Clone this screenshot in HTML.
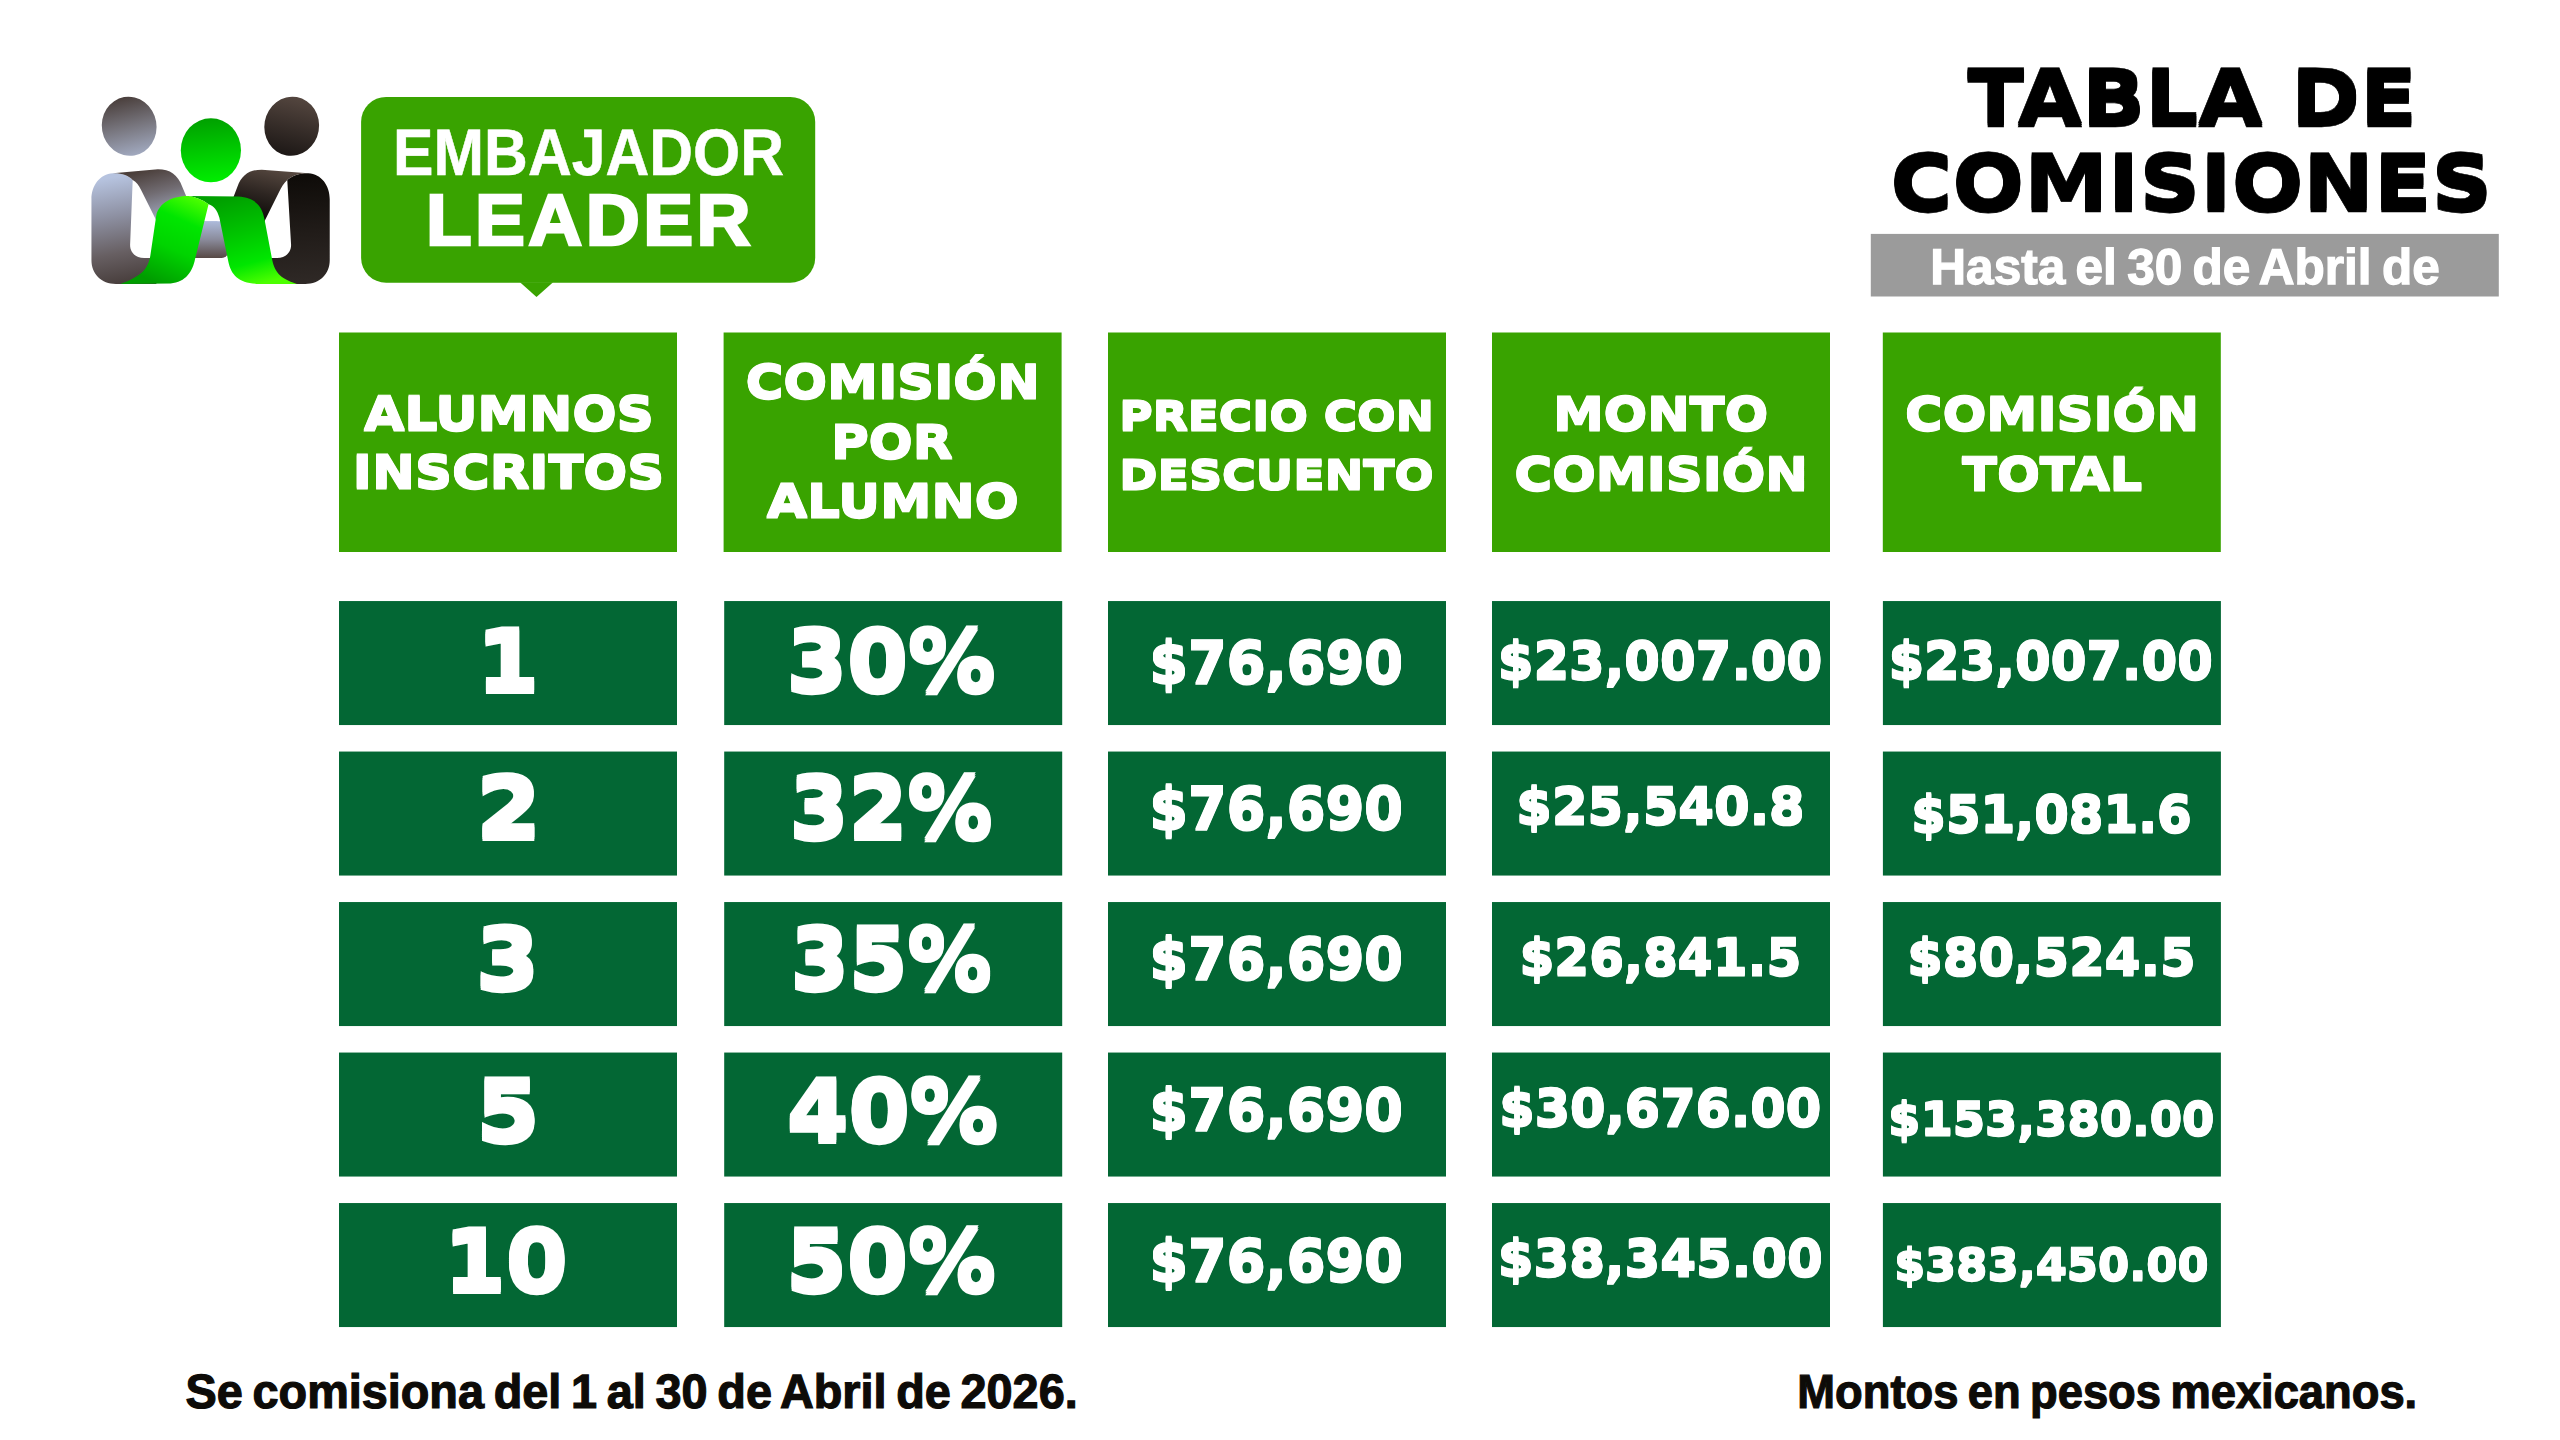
<!DOCTYPE html>
<html lang="es">
<head>
<meta charset="utf-8">
<title>Tabla de Comisiones - Embajador Leader</title>
<style>
html,body{margin:0;padding:0;background:#fff;overflow:hidden;}
body{width:100vw;height:100vh;}
#poster{display:block;position:absolute;left:0;top:0;width:100vw;height:100vh;}
#poster text{white-space:pre;font-kerning:normal;font-weight:700;font-style:normal;text-rendering:geometricPrecision;}
#poster .fg{font-family:"DejaVu Sans","Liberation Sans",sans-serif;}
#poster .fl{font-family:"Liberation Sans","DejaVu Sans",sans-serif;}
</style>
</head>
<body>
<svg id="poster" viewBox="0 0 2560 1440" preserveAspectRatio="xMidYMid meet">
<rect width="2560" height="1440" fill="#fff"/>
<defs>
<linearGradient id="gLH" x1="0.47" y1="0" x2="0.53" y2="1"><stop offset="0" stop-color="#4a3f3c"/><stop offset="0.5" stop-color="#77757d"/><stop offset="1" stop-color="#a1a9bf"/></linearGradient>
<linearGradient id="gRH" x1="0.53" y1="0" x2="0.47" y2="1"><stop offset="0" stop-color="#54463f"/><stop offset="0.55" stop-color="#352c28"/><stop offset="1" stop-color="#1d1816"/></linearGradient>
<linearGradient id="gGH" x1="0.45" y1="0" x2="0.55" y2="1"><stop offset="0" stop-color="#00a000"/><stop offset="0.55" stop-color="#00cc00"/><stop offset="1" stop-color="#00ee00"/></linearGradient>
<linearGradient id="gLL" gradientUnits="userSpaceOnUse" x1="200" y1="640" x2="330" y2="1335"><stop offset="0" stop-color="#b6c3df"/><stop offset="0.35" stop-color="#8e91a3"/><stop offset="0.7" stop-color="#675f62"/><stop offset="1" stop-color="#463c3a"/></linearGradient>
<linearGradient id="gLF" gradientUnits="userSpaceOnUse" x1="430" y1="590" x2="520" y2="930"><stop offset="0" stop-color="#4b3f3b"/><stop offset="0.45" stop-color="#716c72"/><stop offset="1" stop-color="#a5aec6"/></linearGradient>
<linearGradient id="gLM" gradientUnits="userSpaceOnUse" x1="0" y1="925" x2="0" y2="1165"><stop offset="0" stop-color="#adbbdb"/><stop offset="0.5" stop-color="#8a8b9b"/><stop offset="1" stop-color="#574945"/></linearGradient>
<linearGradient id="gRL" gradientUnits="userSpaceOnUse" x1="1450" y1="640" x2="1500" y2="1335"><stop offset="0" stop-color="#0f0c09"/><stop offset="0.5" stop-color="#201b18"/><stop offset="1" stop-color="#2f2926"/></linearGradient>
<linearGradient id="gRF" gradientUnits="userSpaceOnUse" x1="1300" y1="590" x2="1220" y2="920"><stop offset="0" stop-color="#55473f"/><stop offset="0.5" stop-color="#2e2622"/><stop offset="1" stop-color="#0c0a08"/></linearGradient>
<linearGradient id="gGL" gradientUnits="userSpaceOnUse" x1="760" y1="430" x2="330" y2="1380"><stop offset="0" stop-color="#4cff00"/><stop offset="0.28" stop-color="#00e600"/><stop offset="0.6" stop-color="#00d400"/><stop offset="1" stop-color="#009c00"/></linearGradient>
<linearGradient id="gGR" gradientUnits="userSpaceOnUse" x1="1150" y1="400" x2="1420" y2="1380"><stop offset="0" stop-color="#00a000"/><stop offset="0.4" stop-color="#00c400"/><stop offset="0.75" stop-color="#00e600"/><stop offset="1" stop-color="#4cff00"/></linearGradient>
</defs>
<g id="brand-logo">
<g transform="translate(80 80) scale(0.152741)">
<ellipse cx="322" cy="303" rx="179" ry="194" fill="url(#gLH)" transform="rotate(-10 322 303)"/>
<ellipse cx="1386" cy="303" rx="179" ry="194" fill="url(#gRH)" transform="rotate(10 1386 303)"/>
<ellipse cx="857" cy="460" rx="197" ry="210" fill="url(#gGH)"/>
<rect x="700" y="925" width="268" height="240" rx="40" fill="url(#gLM)"/>
<rect x="700" y="925" width="200" height="200" fill="url(#gLM)"/>
<path d="M215 610 C130 615 75 690 75 780 L75 1180 C75 1270 140 1335 235 1335 L500 1335 L500 1165 L420 1165 C365 1165 328 1130 328 1080 L345 655 C320 625 270 608 215 610 Z" fill="url(#gLL)"/>
<path d="M215 610 L510 585 C590 585 640 620 670 700 L780 960 L520 960 L400 720 C385 690 370 670 345 655 C320 625 270 608 215 610 Z" fill="url(#gLF)"/>
<path d="M1495 610 C1580 615 1635 690 1635 780 L1635 1180 C1635 1270 1570 1335 1475 1335 L1250 1335 L1250 1165 L1290 1165 C1345 1165 1382 1130 1382 1080 L1357 655 C1390 625 1440 608 1495 610 Z" fill="url(#gRL)"/>
<path d="M1495 610 L1190 587 C1110 587 1060 620 1030 700 L930 960 L1190 960 L1300 740 C1320 700 1335 675 1357 655 C1390 625 1440 608 1495 610 Z" fill="url(#gRF)"/>
</g>
<g transform="translate(130 160) scale(0.090293)">
<path d="M650 400 L1200 405 C1400 420 1465 520 1490 660 L1570 1080 C1595 1230 1650 1310 1848 1372 L1400 1372 C1200 1360 1120 1270 1090 1130 L990 640 C965 550 930 510 870 490 C800 440 720 410 650 400 Z" fill="url(#gGR)"/>
<path d="M650 400 C500 395 320 460 290 620 L225 1060 C200 1210 120 1290 -105 1372 L450 1367 C620 1355 695 1230 720 1100 L870 490 C800 440 720 410 650 400 Z" fill="url(#gGL)"/>
</g>
</g>
<defs>
<filter id="vt11" x="-5%" y="-30%" width="110%" height="160%"><feOffset in="SourceGraphic" dy="-1" result="u"/><feOffset in="SourceGraphic" dy="1" result="d"/><feMerge><feMergeNode in="u"/><feMergeNode in="d"/><feMergeNode in="SourceGraphic"/></feMerge></filter>
<filter id="vt22" x="-5%" y="-30%" width="110%" height="160%"><feOffset in="SourceGraphic" dy="-2" result="u"/><feOffset in="SourceGraphic" dy="2" result="d"/><feMerge><feMergeNode in="u"/><feMergeNode in="d"/><feMergeNode in="SourceGraphic"/></feMerge></filter>
</defs>
<g id="brand-badge">
<rect x="361.10" y="96.90" width="454.10" height="185.80" fill="#39a300" rx="25"/>
<polygon points="520,282.2 553.1,282.2 536.5,297" fill="#39a300"/>
<text class="fl" transform="translate(393.10 174.72) scale(0.9204 1)" font-size="65.92" fill="#fff" stroke="#fff" stroke-width="0.55">EMBAJADOR</text>
<text class="fl" transform="translate(426.05 245.19) scale(1.0320 1)" font-size="72.49" fill="#fff" stroke="#fff" stroke-width="2.62" letter-spacing="3.26">LEADER</text>
</g>
<g id="page-title">
<text class="fg" transform="translate(1967.62 124.55) scale(1.0953 1)" font-size="75.79" fill="#000" stroke="#000" stroke-width="0.60" filter="url(#vt22)">TABLA DE</text>
<text class="fg" transform="translate(1890.53 210.30) scale(1.1141 1)" font-size="75.72" fill="#000" stroke="#000" stroke-width="0.60" filter="url(#vt22)">COMISIONES</text>
<rect x="1870.80" y="233.90" width="628.00" height="62.60" fill="#9b9b9b"/>
<text class="fl" transform="translate(1930.32 284.15) scale(0.9842 1)" font-size="50.34" fill="#fff" stroke="#fff" stroke-width="1.30" word-spacing="-3.52">Hasta el 30 de Abril de</text>
</g>
<g id="commission-table">
<g id="table-head">
<rect x="339.00" y="332.50" width="338.00" height="219.50" fill="#39a300"/>
<rect x="723.60" y="332.50" width="338.00" height="219.50" fill="#39a300"/>
<rect x="1108.00" y="332.50" width="338.00" height="219.50" fill="#39a300"/>
<rect x="1492.00" y="332.50" width="338.00" height="219.50" fill="#39a300"/>
<rect x="1882.80" y="332.50" width="338.00" height="219.50" fill="#39a300"/>
<text class="fg" transform="translate(364.37 429.55) scale(1.1165 1)" font-size="46.36" fill="#fff" stroke="#fff" stroke-width="1.11" filter="url(#vt11)">ALUMNOS</text>
<text class="fg" transform="translate(352.80 488.36) scale(1.1386 1)" font-size="45.16" fill="#fff" stroke="#fff" stroke-width="1.08" filter="url(#vt11)">INSCRITOS</text>
<text class="fg" transform="translate(745.76 398.45) scale(1.1234 1)" font-size="45.69" fill="#fff" stroke="#fff" stroke-width="1.09" filter="url(#vt11)">COMISIÓN</text>
<text class="fg" transform="translate(831.09 457.86) scale(1.1375 1)" font-size="45.29" fill="#fff" stroke="#fff" stroke-width="1.08" filter="url(#vt11)">POR</text>
<text class="fg" transform="translate(767.12 517.36) scale(1.1408 1)" font-size="45.29" fill="#fff" stroke="#fff" stroke-width="1.08" filter="url(#vt11)">ALUMNO</text>
<text class="fg" transform="translate(1119.27 429.62) scale(1.1471 1)" font-size="39.70" fill="#fff" stroke="#fff" stroke-width="0.96" filter="url(#vt11)">PRECIO CON</text>
<text class="fg" transform="translate(1119.23 488.72) scale(1.1600 1)" font-size="39.70" fill="#fff" stroke="#fff" stroke-width="0.96" filter="url(#vt11)">DESCUENTO</text>
<text class="fg" transform="translate(1552.92 430.46) scale(1.1276 1)" font-size="45.29" fill="#fff" stroke="#fff" stroke-width="1.08" filter="url(#vt11)">MONTO</text>
<text class="fg" transform="translate(1514.56 490.26) scale(1.1381 1)" font-size="45.02" fill="#fff" stroke="#fff" stroke-width="1.08" filter="url(#vt11)">COMISIÓN</text>
<text class="fg" transform="translate(1905.06 430.46) scale(1.1333 1)" font-size="45.29" fill="#fff" stroke="#fff" stroke-width="1.08" filter="url(#vt11)">COMISIÓN</text>
<text class="fg" transform="translate(1962.36 490.26) scale(1.1251 1)" font-size="45.02" fill="#fff" stroke="#fff" stroke-width="1.08" filter="url(#vt11)">TOTAL</text>
</g>
<g id="table-row-1">
<rect x="339.00" y="601.05" width="338.00" height="124.00" fill="#036734"/>
<rect x="724.20" y="601.05" width="338.00" height="124.00" fill="#036734"/>
<rect x="1108.00" y="601.05" width="338.00" height="124.00" fill="#036734"/>
<rect x="1492.00" y="601.05" width="338.00" height="124.00" fill="#036734"/>
<rect x="1882.90" y="601.05" width="338.00" height="124.00" fill="#036734"/>
<text class="fg" transform="translate(476.42 690.74) scale(1.0686 1)" font-size="84.33" fill="#fff" stroke="#fff" stroke-width="2.02" filter="url(#vt22)">1</text>
<text class="fg" transform="translate(786.46 690.74) scale(1.0355 1)" font-size="84.33" fill="#fff" stroke="#fff" stroke-width="2.02" filter="url(#vt22)">30%</text>
<text class="fg" transform="translate(1149.20 683.12) scale(0.9645 1)" font-size="57.80" fill="#fff" stroke="#fff" stroke-width="1.36" filter="url(#vt11)">$76,690</text>
<text class="fg" transform="translate(1497.70 678.69) scale(0.9956 1)" font-size="51.54" fill="#fff" stroke="#fff" stroke-width="1.22" filter="url(#vt11)">$23,007.00</text>
<text class="fg" transform="translate(1888.40 678.69) scale(0.9953 1)" font-size="51.54" fill="#fff" stroke="#fff" stroke-width="1.22" filter="url(#vt11)">$23,007.00</text>
</g>
<g id="table-row-2">
<rect x="339.00" y="751.55" width="338.00" height="124.00" fill="#036734"/>
<rect x="724.20" y="751.55" width="338.00" height="124.00" fill="#036734"/>
<rect x="1108.00" y="751.55" width="338.00" height="124.00" fill="#036734"/>
<rect x="1492.00" y="751.55" width="338.00" height="124.00" fill="#036734"/>
<rect x="1882.90" y="751.55" width="338.00" height="124.00" fill="#036734"/>
<text class="fg" transform="translate(476.23 838.48) scale(1.1037 1)" font-size="84.66" fill="#fff" stroke="#fff" stroke-width="2.03" filter="url(#vt22)">2</text>
<text class="fg" transform="translate(789.60 838.48) scale(1.0009 1)" font-size="84.66" fill="#fff" stroke="#fff" stroke-width="2.03" filter="url(#vt22)">32%</text>
<text class="fg" transform="translate(1149.20 829.22) scale(0.9623 1)" font-size="57.93" fill="#fff" stroke="#fff" stroke-width="1.37" filter="url(#vt11)">$76,690</text>
<text class="fg" transform="translate(1516.31 824.40) scale(1.0176 1)" font-size="50.35" fill="#fff" stroke="#fff" stroke-width="1.20" filter="url(#vt11)">$25,540.8</text>
<text class="fg" transform="translate(1911.30 832.10) scale(0.9895 1)" font-size="50.35" fill="#fff" stroke="#fff" stroke-width="1.20" filter="url(#vt11)">$51,081.6</text>
</g>
<g id="table-row-3">
<rect x="339.00" y="902.05" width="338.00" height="124.00" fill="#036734"/>
<rect x="724.20" y="902.05" width="338.00" height="124.00" fill="#036734"/>
<rect x="1108.00" y="902.05" width="338.00" height="124.00" fill="#036734"/>
<rect x="1492.00" y="902.05" width="338.00" height="124.00" fill="#036734"/>
<rect x="1882.90" y="902.05" width="338.00" height="124.00" fill="#036734"/>
<text class="fg" transform="translate(475.72 988.99) scale(1.0875 1)" font-size="84.19" fill="#fff" stroke="#fff" stroke-width="2.02" filter="url(#vt22)">3</text>
<text class="fg" transform="translate(790.38 988.99) scale(0.9987 1)" font-size="84.19" fill="#fff" stroke="#fff" stroke-width="2.02" filter="url(#vt22)">35%</text>
<text class="fg" transform="translate(1149.20 979.43) scale(0.9791 1)" font-size="56.93" fill="#fff" stroke="#fff" stroke-width="1.35" filter="url(#vt11)">$76,690</text>
<text class="fg" transform="translate(1519.48 975.00) scale(0.9945 1)" font-size="50.35" fill="#fff" stroke="#fff" stroke-width="1.20" filter="url(#vt11)">$26,841.5</text>
<text class="fg" transform="translate(1907.21 975.00) scale(1.0172 1)" font-size="50.35" fill="#fff" stroke="#fff" stroke-width="1.20" filter="url(#vt11)">$80,524.5</text>
</g>
<g id="table-row-4">
<rect x="339.00" y="1052.55" width="338.00" height="124.00" fill="#036734"/>
<rect x="724.20" y="1052.55" width="338.00" height="124.00" fill="#036734"/>
<rect x="1108.00" y="1052.55" width="338.00" height="124.00" fill="#036734"/>
<rect x="1492.00" y="1052.55" width="338.00" height="124.00" fill="#036734"/>
<rect x="1882.90" y="1052.55" width="338.00" height="124.00" fill="#036734"/>
<text class="fg" transform="translate(476.03 1140.89) scale(1.0884 1)" font-size="84.19" fill="#fff" stroke="#fff" stroke-width="2.02" filter="url(#vt22)">5</text>
<text class="fg" transform="translate(787.10 1140.89) scale(1.0465 1)" font-size="84.19" fill="#fff" stroke="#fff" stroke-width="2.02" filter="url(#vt22)">40%</text>
<text class="fg" transform="translate(1149.20 1130.13) scale(0.9780 1)" font-size="57.00" fill="#fff" stroke="#fff" stroke-width="1.35" filter="url(#vt11)">$76,690</text>
<text class="fg" transform="translate(1499.23 1125.80) scale(1.0027 1)" font-size="50.75" fill="#fff" stroke="#fff" stroke-width="1.21" filter="url(#vt11)">$30,676.00</text>
<text class="fg" transform="translate(1888.12 1135.06) scale(1.0216 1)" font-size="45.49" fill="#fff" stroke="#fff" stroke-width="1.09" filter="url(#vt11)">$153,380.00</text>
</g>
<g id="table-row-5">
<rect x="339.00" y="1203.05" width="338.00" height="124.00" fill="#036734"/>
<rect x="724.20" y="1203.05" width="338.00" height="124.00" fill="#036734"/>
<rect x="1108.00" y="1203.05" width="338.00" height="124.00" fill="#036734"/>
<rect x="1492.00" y="1203.05" width="338.00" height="124.00" fill="#036734"/>
<rect x="1882.90" y="1203.05" width="338.00" height="124.00" fill="#036734"/>
<text class="fg" transform="translate(443.78 1291.39) scale(1.0534 1)" font-size="84.53" fill="#fff" stroke="#fff" stroke-width="2.03" filter="url(#vt22)">10</text>
<text class="fg" transform="translate(786.04 1291.39) scale(1.0377 1)" font-size="84.53" fill="#fff" stroke="#fff" stroke-width="2.03" filter="url(#vt22)">50%</text>
<text class="fg" transform="translate(1149.20 1280.52) scale(0.9712 1)" font-size="57.40" fill="#fff" stroke="#fff" stroke-width="1.36" filter="url(#vt11)">$76,690</text>
<text class="fg" transform="translate(1497.70 1276.40) scale(1.0202 1)" font-size="50.35" fill="#fff" stroke="#fff" stroke-width="1.20" filter="url(#vt11)">$38,345.00</text>
<text class="fg" transform="translate(1893.94 1279.88) scale(1.0291 1)" font-size="43.56" fill="#fff" stroke="#fff" stroke-width="1.04" filter="url(#vt11)">$383,450.00</text>
</g>
</g>
<g id="footnotes">
<text class="fl" transform="translate(185.55 1407.88) scale(0.9746 1)" font-size="48.03" fill="#0d0b08" stroke="#0d0b08" stroke-width="1.24" word-spacing="-3.36">Se comisiona del 1 al 30 de Abril de 2026.</text>
<text class="fl" transform="translate(1797.30 1407.89) scale(0.9488 1)" font-size="47.76" fill="#0d0b08" stroke="#0d0b08" stroke-width="1.23" word-spacing="-3.34">Montos en pesos mexicanos.</text>
</g>
</svg>
</body>
</html>
